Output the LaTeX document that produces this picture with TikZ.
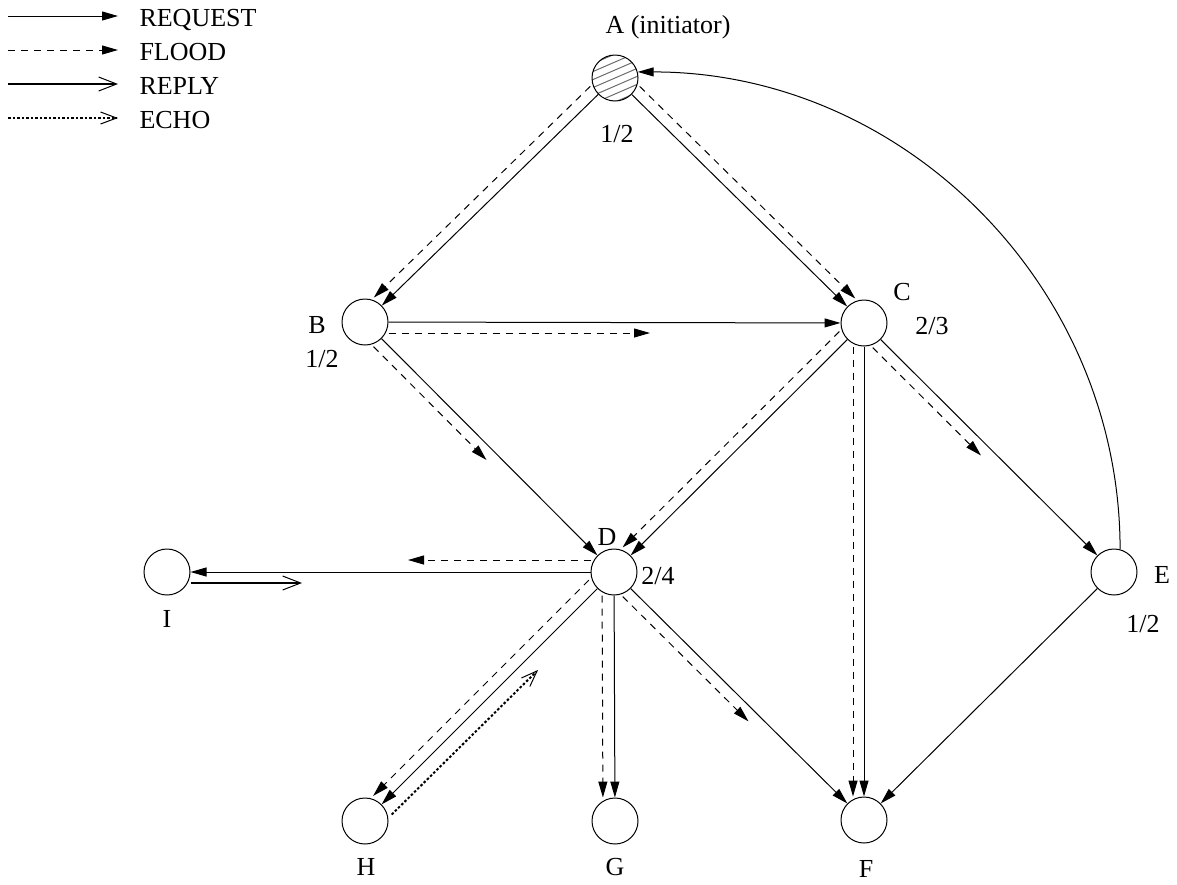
\documentclass[tikz,border=0pt]{standalone}
\usepackage{fontspec}
\setmainfont{Liberation Serif}
\usetikzlibrary{arrows.meta,calc}
\begin{document}
\begin{tikzpicture}[x=1pt,y=-1pt,line width=1pt,
  every node/.style={font=\fontsize{26}{30}\selectfont,inner sep=0pt},
  vtx/.style={circle,draw,minimum size=46pt,inner sep=0pt},
  lbl/.style={anchor=base},
  req/.style={-{Triangle[length=16pt,width=9pt]}},
  fld/.style={req,dash pattern=on 7pt off 6pt},
  rep/.style={-{Straight Barb[length=18pt,width=14pt,line width=1pt 0]},line width=2pt},
  ech/.style={-{Straight Barb[length=16pt,width=12pt,line width=1pt 0]},line width=2pt,dash pattern=on 2.5pt off 2pt},
  off/.style 2 args={transform canvas={xshift=#1pt,yshift=-#2pt}}]
\useasboundingbox (0,0) rectangle (1177,884);

% legend
\coordinate (l1a) at (8,16);  \coordinate (l1b) at (118,16);
\coordinate (l2a) at (8,50);  \coordinate (l2b) at (118,50);
\coordinate (l3a) at (8,84);  \coordinate (l3b) at (118,84);
\coordinate (l4a) at (8,118); \coordinate (l4b) at (118,118);
\draw[req] (l1a) -- (l1b);
\draw[fld] (l2a) -- (l2b);
\draw[rep] (l3a) -- (l3b);
\draw[ech] (l4a) -- (l4b);
\node[anchor=base west] (t1) at (139,26) {REQUEST};
\node[anchor=base west] (t2) at (139,60) {FLOOD};
\node[anchor=base west] (t3) at (139,94) {REPLY};
\node[anchor=base west] (t4) at (139,128) {ECHO};

% vertices
\node[vtx,path picture={\foreach \c in {-32,-24,...,32}
   \draw[gray!85!black,line width=1pt] ($(path picture bounding box.center)+(-30,\c+13)$) -- ++(60,-26);}] (A) at (615,78) {};
\node[vtx] (B) at (365,322) {};
\node[vtx] (C) at (864,323) {};
\node[vtx] (D) at (614,572) {};
\node[vtx] (E) at (1114,572) {};
\node[vtx] (I) at (167,572) {};
\node[vtx] (H) at (365,821) {};
\node[vtx] (G) at (615,821) {};
\node[vtx] (F) at (864,820) {};

% labels
\node[anchor=base west] (lA) at (605,33) {A (initiator)};
\node[lbl] (nA) at (617,142) {1/2};
\node[lbl] (lB) at (317,333) {B};
\node[lbl] (nB) at (322,367) {1/2};
\node[lbl] (lC) at (902,300) {C};
\node[lbl] (nC) at (932,334) {2/3};
\node[lbl] (lD) at (607,545) {D};
\node[lbl] (nD) at (658,584) {2/4};
\node[lbl] (lE) at (1162,583) {E};
\node[lbl] (nE) at (1143,632) {1/2};
\node[lbl] (lI) at (167,627) {I};
\node[lbl] (lH) at (366,875) {H};
\node[lbl] (lG) at (615,875) {G};
\node[lbl] (lF) at (866,877) {F};

% helper coordinates
\coordinate (bc) at (650,322);
\coordinate (bd) at ($(B)!0.52!(D)$);
\coordinate (ce) at ($(C)!0.5!(E)$);
\coordinate (di) at (408,572);
\coordinate (id) at (302,572);
\coordinate (hd) at (528,660);
\coordinate (df) at ($(D)!0.57!(F)$);

% edges
\draw[req] (A) -- (B);
\draw[fld,off={-8}{-8}] (A) -- (B);
\draw[req] (A) -- (C);
\draw[fld,off={8}{-8}] (A) -- (C);
\draw[req] (B) -- (C);
\draw[fld,off={0}{11}] (B) -- (bc);
\draw[req] (B) -- (D);
\draw[fld,off={-8}{8}] (B) -- (bd);
\draw[req] (C) -- (D);
\draw[fld,off={-8}{-8}] (C) -- (D);
\draw[req] (C) -- (F);
\draw[fld,off={-11}{0}] (C) -- (F);
\draw[req] (C) -- (E);
\draw[fld,off={-8}{8}] (C) -- (ce);
\draw[req] (E) -- (F);
\draw[req] (E.75) .. controls +(0,-263) and +(266,0) .. (A.15);
\draw[req] (D) -- (I);
\draw[fld,off={0}{-12}] (D) -- (di);
\draw[rep,off={0}{11}] (I) -- (id);
\draw[req] (D) -- (H);
\draw[fld,off={-8.5}{-8.5}] (D) -- (H);
\draw[ech,off={10}{10}] (H) -- (hd);
\draw[req] (D) -- (G);
\draw[fld,off={-12}{0}] (D) -- (G);
\draw[req] (D) -- (F);
\draw[fld,off={-8}{8}] (D) -- (df);
\end{tikzpicture}
\end{document}
